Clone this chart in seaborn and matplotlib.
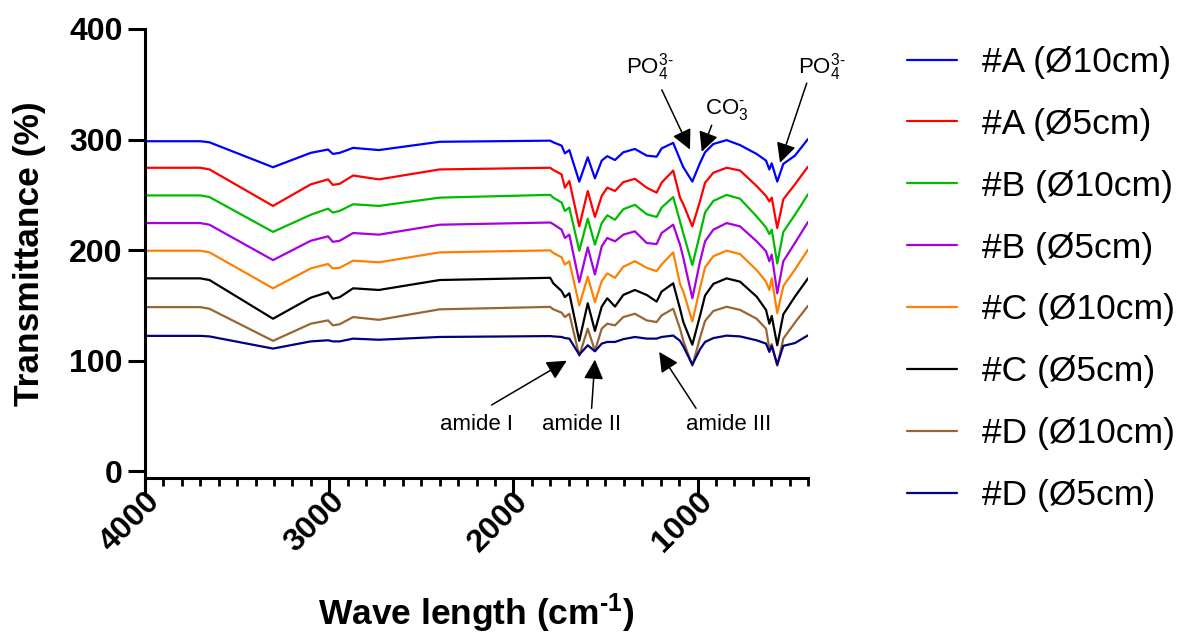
import matplotlib
matplotlib.use("Agg")
import matplotlib.pyplot as plt
import matplotlib.ticker as mticker
import pandas as pd
import seaborn as sns

wavenumber = [4000, 3700, 3650, 3305, 3100, 3006, 2980, 2943, 2870, 2730, 2400,
              1800, 1783, 1738, 1720, 1696, 1642, 1596, 1557, 1520, 1490, 1448,
              1403, 1340, 1276, 1222, 1195, 1132, 1095, 1077, 1028, 986, 959,
              914, 842, 769, 679, 628, 610, 597, 567, 534, 471, 400]

a_10 = [298.5, 298.5, 297.5, 275, 288, 291, 287, 288, 292.5, 290.5, 298,
        299, 297.5, 294.5, 287.5, 290.5, 262, 284, 265, 281, 285, 281.5,
        288.5, 291.5, 285.5, 284.5, 292, 297, 282, 275, 262, 279, 288.5,
        296, 299.5, 295, 287, 281, 273, 278.5, 262, 278, 285.5, 300.5]
a_5 = [274.5, 274.5, 273, 240, 259.5, 264, 259, 260, 267.5, 264, 273,
       274.5, 272.5, 268.5, 256.5, 262.5, 221.5, 253.5, 230, 249, 256.5, 253.5,
       261.5, 264.5, 256.5, 252, 261, 272, 247.5, 241.5, 221.5, 244.5, 261,
       270, 274.5, 272, 258, 249, 244, 247.5, 220, 246, 259.5, 275.5]
b_10 = [249.5, 249.5, 248, 216.5, 232, 237.5, 234, 235.5, 241.5, 240, 247.5,
        250, 247.5, 243, 235.5, 238.5, 199.5, 228.5, 205, 224.5, 231.5, 227.5,
        237, 241, 232.5, 230, 238.5, 248, 226, 215, 186.5, 215, 234,
        244.5, 250, 246.5, 230.5, 220.5, 214.5, 218.5, 188, 216.5, 232, 250.5]
b_5 = [224.5, 224.5, 223, 191, 208.5, 212.5, 207.5, 208.5, 215.5, 214, 223,
       225, 223.5, 218.5, 211, 214, 171, 202.5, 178, 203.5, 211, 208,
       214, 217, 206.5, 205.5, 215.5, 223, 205, 193, 156.5, 190, 208,
       218.5, 224.5, 221.5, 208, 199, 190, 196, 161, 190, 206.5, 225.5]
c_10 = [199.5, 199.5, 198, 165.5, 183.5, 187.5, 183.5, 184, 190.5, 189, 198,
        199.8, 197.5, 193.5, 187, 190, 150, 176, 153, 172, 179, 175,
        185, 190, 184, 181, 187, 198, 169.5, 162.5, 135.5, 166, 184.5,
        194.5, 199.5, 196.5, 182, 171.5, 164, 174.5, 143, 167.5, 182.5, 200.5]
c_5 = [174.5, 174.5, 173, 138, 157, 162, 156, 157.5, 165.5, 164, 173,
       175, 170, 163, 157.5, 161, 118, 152, 127, 149, 156.5, 149,
       159.5, 164, 159.5, 153.5, 162.5, 170, 147, 135, 114.5, 141, 159,
       169.5, 174.5, 171.5, 158, 146, 133.5, 140.5, 114, 142, 158, 174.5]
d_10 = [148.5, 148.5, 147, 118, 133.5, 136.5, 132, 133, 139.5, 137, 146.5,
        148.7, 146.5, 143.5, 139.5, 142.5, 104.5, 129, 109, 129, 133.5, 132,
        139.5, 142.5, 136.5, 135, 141, 147, 129, 118, 95.5, 121, 136,
        145, 148.8, 146, 138, 129, 111, 115, 95.5, 120, 134.5, 149.7]
d_5 = [122.5, 122.5, 122, 111, 117.5, 118.5, 117.5, 117.5, 120, 119, 121.5,
       122.3, 122, 121.5, 120.5, 120, 105.5, 114, 108.5, 115.5, 117, 117,
       119.5, 121.5, 120, 120, 121.5, 122.8, 118, 113, 96.5, 110.5, 117,
       120.5, 122.7, 122, 118.5, 115.5, 108, 113.5, 96.5, 113.5, 116, 123]

labels = ["#A (Ø10cm)", "#A (Ø5cm)", "#B (Ø10cm)", "#B (Ø5cm)",
          "#C (Ø10cm)", "#C (Ø5cm)", "#D (Ø10cm)", "#D (Ø5cm)"]
colors = ["#0000FF", "#FF0000", "#00BB00", "#A800E0",
          "#FF8000", "#000000", "#996633", "#000080"]
spectra = [a_10, a_5, b_10, b_5, c_10, c_5, d_10, d_5]

sns.set_style("ticks")
plt.rcParams["font.family"] = ["Liberation Sans", "DejaVu Sans"]
plt.rcParams["mathtext.fontset"] = "custom"
plt.rcParams["mathtext.rm"] = "Liberation Sans"
plt.rcParams["mathtext.it"] = "Liberation Sans:italic"
plt.rcParams["mathtext.bf"] = "Liberation Sans:bold"
for key in ["text.color", "axes.labelcolor", "xtick.color", "ytick.color", "axes.edgecolor"]:
    plt.rcParams[key] = "black"

df = pd.concat(
    [pd.DataFrame({"wavenumber": wavenumber, "transmittance": vals, "sample": lab})
     for lab, vals in zip(labels, spectra)],
    ignore_index=True,
)

fig = plt.figure(figsize=(11.77, 6.34), dpi=100)
ax = fig.add_axes([0.1232, 0.2461, 0.5633, 0.7082])

sns.lineplot(data=df, x="wavenumber", y="transmittance", hue="sample",
             hue_order=labels, palette=colors, sort=False, estimator=None,
             lw=1.6, legend=False, ax=ax)

ax.set_xlim(4000, 400)
ax.set_ylim(-6, 400)
ax.set_yticks([0, 100, 200, 300, 400])
ax.set_xticks([4000, 3000, 2000, 1000])
ax.xaxis.set_minor_locator(mticker.MultipleLocator(100))

sns.despine(ax=ax)
for side in ["left", "bottom"]:
    ax.spines[side].set_linewidth(2.2)
ax.spines["left"].set_bounds(-17, 400)

ax.tick_params(axis="both", which="major", length=12, width=2.2, labelsize=23, pad=4)
ax.tick_params(axis="x", which="major", pad=-6)
ax.tick_params(axis="x", which="minor", length=6, width=2.0)
for lab in ax.get_xticklabels() + ax.get_yticklabels():
    lab.set_fontweight("bold")
for lab in ax.get_xticklabels():
    lab.set_rotation(45)
    lab.set_ha("right")
    lab.set_va("top")
    lab.set_rotation_mode("anchor")

ax.set_ylabel("Transmittance (%)", fontsize=25.5, fontweight="bold")
ax.set_xlabel("Wave length (cm$\\mathbf{^{\u20101}}$)", fontsize=25.5, fontweight="bold")
ax.yaxis.set_label_coords(-0.149, 0.5)
ax.xaxis.set_label_coords(0.5, -0.252)

# peak annotations
arrow = dict(arrowstyle="-|>", mutation_scale=30, lw=1.1, color="black",
             shrinkA=0, shrinkB=0)
notes = [
    ("PO$_4^{3\u2010}$", (1258, 366), (1194, 345), (1041, 291)),
    ("CO$_3^{\u2010}$", (840, 327), (923, 313), (977, 289)),
    ("PO$_4^{3\u2010}$", (324, 366), (407, 351), (552, 279)),
    ("amide I", (2200, 42), (2118, 60), (1710, 100)),
    ("amide II", (1629, 42), (1575, 57), (1557, 101)),
    ("amide III", (829, 42), (1008, 57), (1208, 108)),
]
for text, pos, tail, tip in notes:
    ax.text(*pos, text, fontsize=16, ha="center", va="center", clip_on=False)
    ax.annotate("", xy=tip, xytext=tail, arrowprops=arrow, annotation_clip=False)

handles = [plt.Line2D([], [], color=c, lw=1.6) for c in colors]
fig.legend(handles, labels, loc="upper left",
           bbox_to_anchor=(907 / 1177, 1 - 46 / 634),
           frameon=False, fontsize=25.5, borderpad=0, borderaxespad=0,
           handlelength=1.4, handletextpad=0.72, labelspacing=0.815)

fig.savefig("out.png", dpi=100)
